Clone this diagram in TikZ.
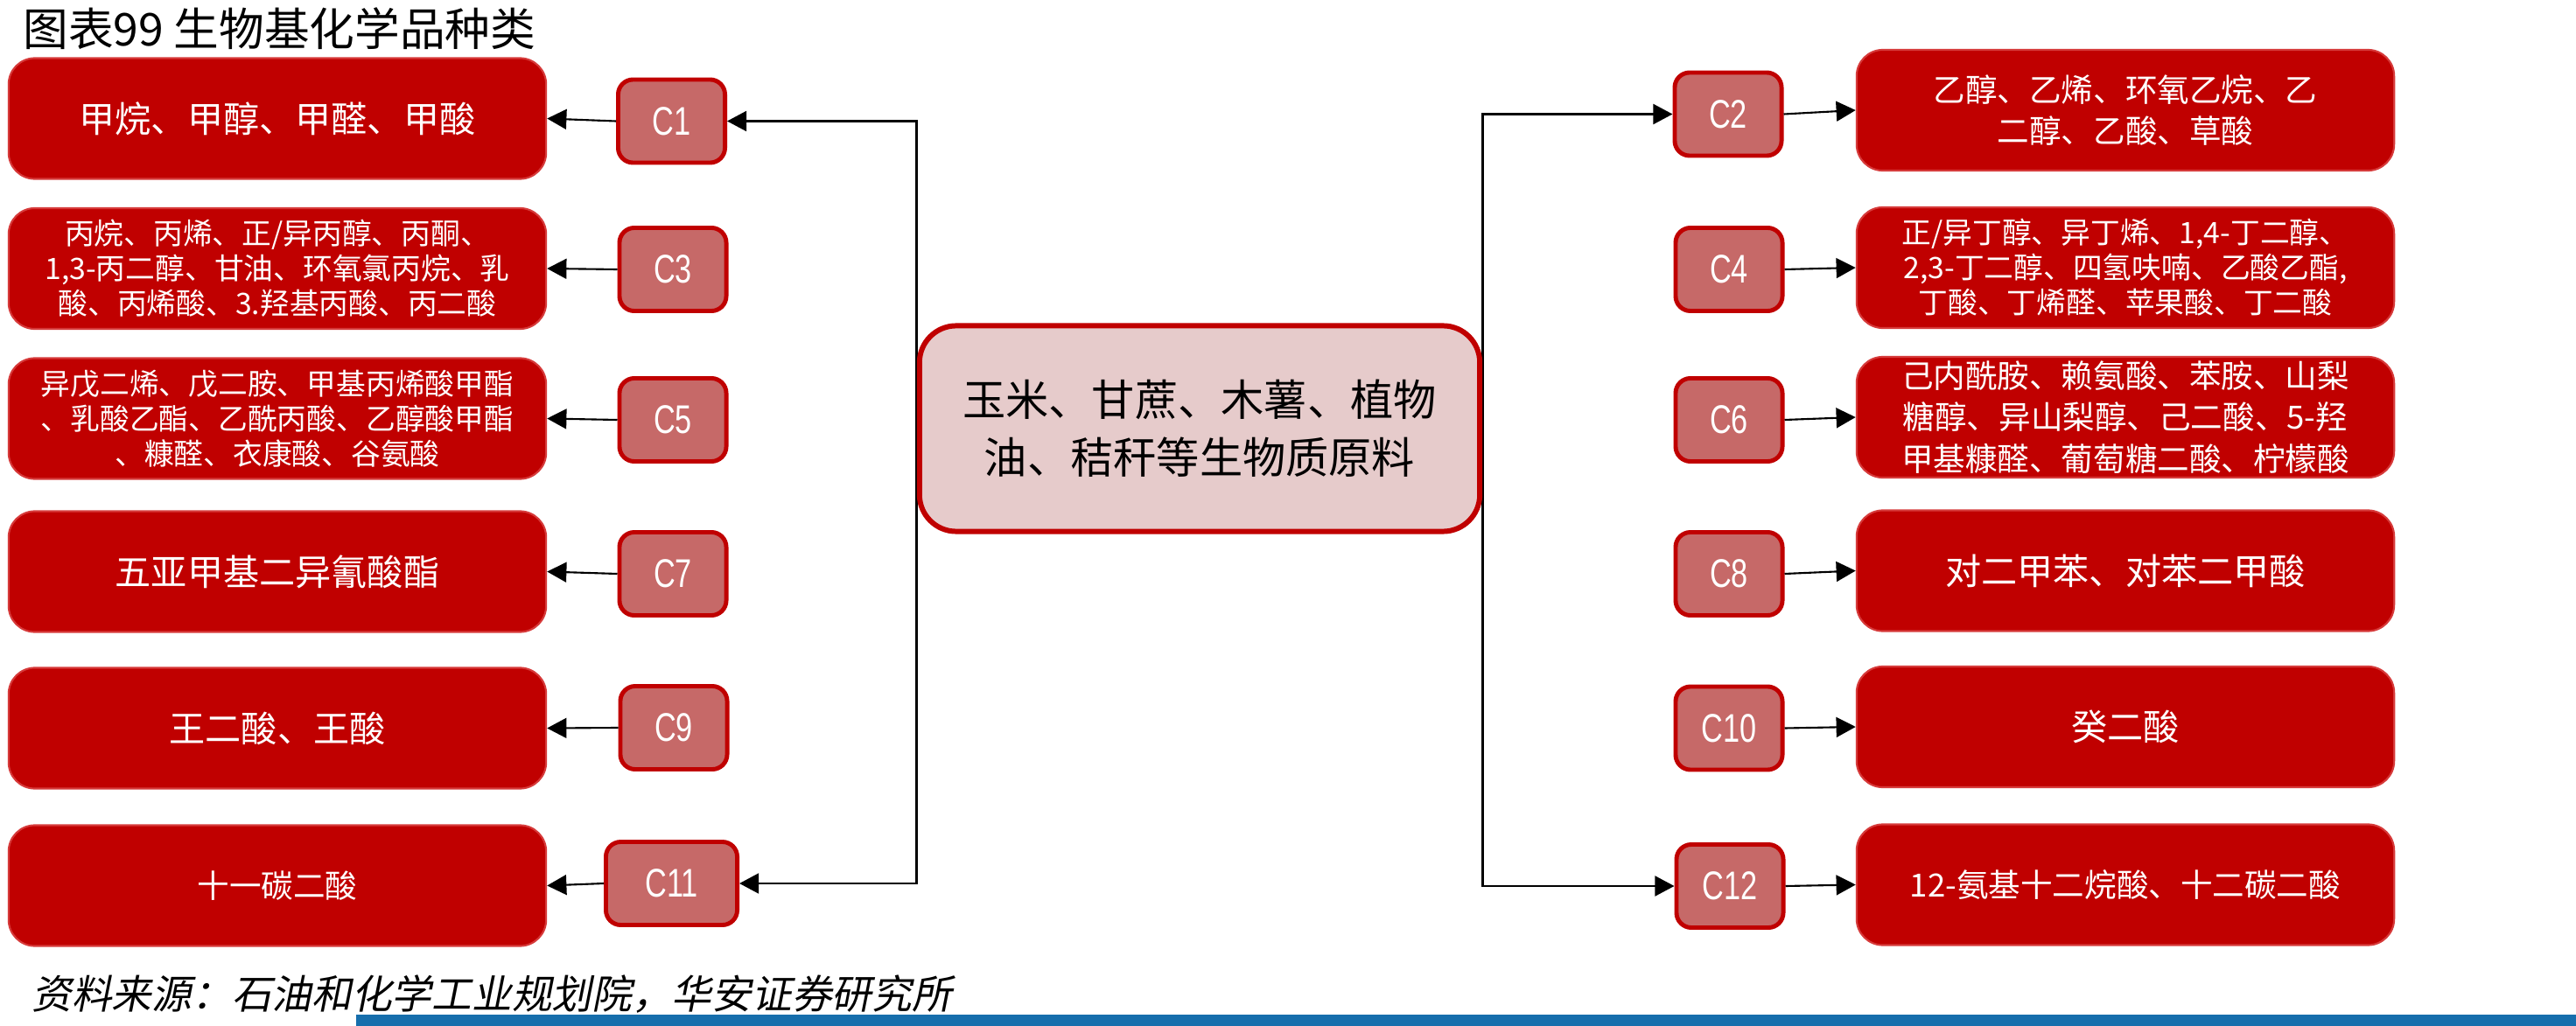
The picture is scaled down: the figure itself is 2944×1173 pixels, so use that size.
\documentclass[tikz,border=0pt]{standalone}
\usepackage{fontspec}
\setmainfont{Noto Sans CJK SC}
\newfontfamily\numfont[FakeStretch=0.75]{Liberation Sans}
\newfontfamily\notefont[FakeSlant=0.2]{Noto Sans CJK SC}
\usepackage{tikz}
\usetikzlibrary{positioning,calc}
\usetikzlibrary{arrows.meta,backgrounds}
\definecolor{DeepRed}{RGB}{192,0,0}
\definecolor{EdgeRed}{RGB}{214,58,58}
\definecolor{NumRed}{RGB}{198,105,104}
\definecolor{PaleRed}{RGB}{230,203,203}
\definecolor{BarBlue}{RGB}{22,110,172}
\tikzset{
	prod/.style={draw=EdgeRed,fill=DeepRed,text=white,rounded corners=0.3cm,line width=0.6pt,
		minimum width=6.14cm,minimum height=1.38cm,align=center,inner sep=0pt},
	cnum/.style={draw=DeepRed,fill=NumRed,text=white,rounded corners=0.17cm,line width=1.4pt,
		minimum width=1.22cm,minimum height=0.95cm,inner sep=0pt,font=\numfont\fontsize{13}{15}\selectfont},
	src/.style={draw=DeepRed,fill=PaleRed,rounded corners=0.42cm,line width=1.7pt,
		minimum width=6.4cm,minimum height=2.35cm,align=center,inner sep=0pt,font=\fontsize{14}{18.7}\selectfont},
	txtbig/.style={font=\fontsize{11.7}{14}\selectfont},
	txtmid/.style={font=\fontsize{10.4}{13.5}\selectfont},
	txtsmall/.style={font=\fontsize{9.6}{11.4}\selectfont},
	link/.style={draw=black,line width=0.6pt,-{Triangle[length=6.3pt,width=6.5pt]}},
	trunk/.style={link,line width=0.8pt},
}
\begin{document}
\begin{tikzpicture}[x=0.01cm,y=-0.01cm]
	\useasboundingbox (0,0) rectangle (2944,1173);
	\node[anchor=west,font=\fontsize{14.7}{17}\selectfont] (title) at (14,33) {图表99 生物基化学品种类};
	\node[src] (src) at (1371,490) {玉米、甘蔗、木薯、植物\\油、秸秆等生物质原料};
	\begin{scope}
		\node[prod,txtbig] (p1) at (317,135.5) {甲烷、甲醇、甲醛、甲酸};
		\node[prod,txtsmall] (p3) at (317,307) {丙烷、丙烯、正/异丙醇、丙酮、\\1,3-丙二醇、甘油、环氧氯丙烷、乳\\酸、丙烯酸、3.羟基丙酸、丙二酸};
		\node[prod,txtsmall] (p5) at (317,478.5) {异戊二烯、戊二胺、甲基丙烯酸甲酯\\、乳酸乙酯、乙酰丙酸、乙醇酸甲酯\\、糠醛、衣康酸、谷氨酸};
		\node[prod,txtbig] (p7) at (317,653.5) {五亚甲基二异氰酸酯};
		\node[prod,txtbig] (p9) at (317,832.5) {王二酸、王酸};
		\node[prod,txtmid] (p11) at (317,1012.5) {十一碳二酸};
		\node[cnum] (c1) at (767.5,138.5) {C1};
		\node[cnum] (c3) at (769,308) {C3};
		\node[cnum] (c5) at (769,480) {C5};
		\node[cnum] (c7) at (769,656) {C7};
		\node[cnum] (c9) at (770,832) {C9};
		\node[cnum,minimum width=1.5cm] (c11) at (767.5,1010) {C11};
	\end{scope}
	\begin{scope}
		\node[prod,txtmid] (p2) at (2429,126) {乙醇、乙烯、环氧乙烷、乙\\二醇、乙酸、草酸};
		\node[prod,txtsmall] (p4) at (2429,306) {正/异丁醇、异丁烯、1,4-丁二醇、\\2,3-丁二醇、四氢呋喃、乙酸乙酯,\\丁酸、丁烯醛、苹果酸、丁二酸};
		\node[prod,txtmid] (p6) at (2429,477) {己内酰胺、赖氨酸、苯胺、山梨\\糖醇、异山梨醇、己二酸、5-羟\\甲基糠醛、葡萄糖二酸、柠檬酸};
		\node[prod,txtbig] (p8) at (2429,652.5) {对二甲苯、对苯二甲酸};
		\node[prod,txtbig] (p10) at (2429,831) {癸二酸};
		\node[prod,txtmid] (p12) at (2429,1011.5) {12-氨基十二烷酸、十二碳二酸};
		\node[cnum] (c2) at (1975,130.5) {C2};
		\node[cnum] (c4) at (1976,308) {C4};
		\node[cnum] (c6) at (1976,480) {C6};
		\node[cnum] (c8) at (1976,656) {C8};
		\node[cnum] (c10) at (1976,832.5) {C10};
		\node[cnum] (c12) at (1977,1013) {C12};
	\end{scope}
	\begin{scope}[on background layer]
		\draw[trunk] (src.west) |- (c1.east);
		\draw[trunk] (src.west) |- (c11.east);
		\draw[trunk] (src.east) |- (c2.west);
		\draw[trunk] (src.east) |- (c12.west);
	\end{scope}
	\foreach \i in {1,3,5,7,9,11}
		\draw[link] (c\i.west) -- (p\i.east);
	\foreach \i in {2,4,6,8,10,12}
		\draw[link] (c\i.east) -- (p\i.west);
	\node[anchor=west,font=\notefont\fontsize{13}{15}\selectfont] (note) at (24,1137) {资料来源：石油和化学工业规划院，华安证券研究所};
	\fill[BarBlue] (407,1160) rectangle (2944,1173);
\end{tikzpicture}
\end{document}
